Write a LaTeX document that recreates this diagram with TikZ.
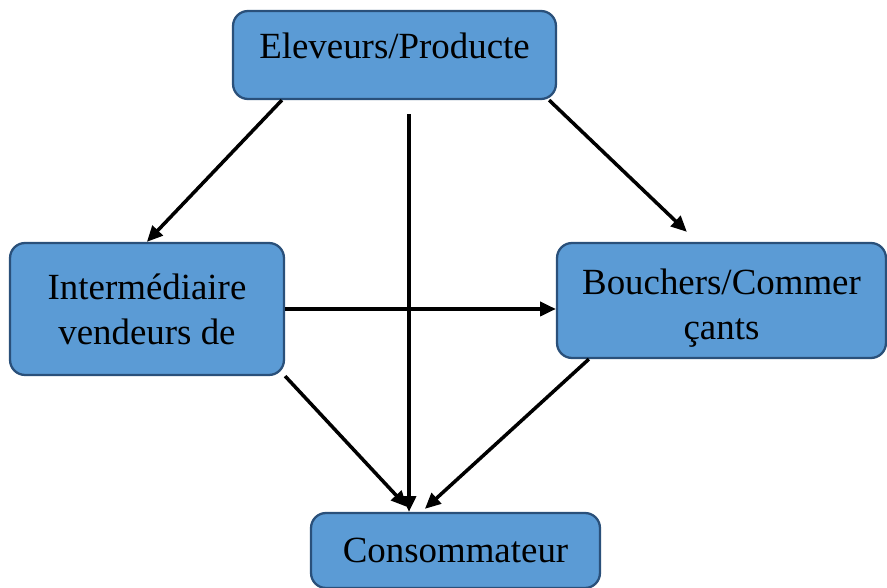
\documentclass[tikz,border=0pt]{standalone}
\usepackage{fontspec}
\setmainfont{Liberation Serif}
\usetikzlibrary{arrows.meta}
\definecolor{boxfill}{RGB}{91,155,213}
\definecolor{boxline}{RGB}{42,80,122}
\begin{document}
\begin{tikzpicture}[x=0.02cm,y=0.02cm,
  box/.style={draw=boxline,fill=boxfill,line width=1.3pt,rounded corners=0.3cm,align=center,
    font=\fontsize{21}{25.6}\selectfont,inner sep=0pt},
  arr/.style={-{Triangle[length=9pt,width=8pt]},line width=2pt}]
\useasboundingbox (0,0) rectangle (887,588);
\node[box,minimum width=6.46cm,minimum height=1.76cm,text depth=10.5pt] (prod) at (394.5,533) {Eleveurs/Producte};
\node[box,minimum width=5.48cm,minimum height=2.64cm] (inter) at (147,279) {Intermédiaire\\vendeurs de};
\node[box,minimum width=6.58cm,minimum height=2.30cm,text height=49pt] (bouch) at (721.5,287.5) {Bouchers/Commer\\çants};
\node[box,minimum width=5.78cm,minimum height=1.50cm] (cons) at (455.5,37.5) {Consommateur};
\draw[arr] ([shift={(50,0)}]prod.south west) -- ([shift={(138,0)}]inter.north west);
\draw[arr] ([shift={(14.5,-14)}]prod.south) coordinate (v) -- (v |- cons.north);
\draw[arr] ([shift={(-8,0)}]prod.south east) -- ([shift={(131,10)}]bouch.north west);
\draw[arr] (inter.east) -- (inter.east -| bouch.west);
\draw[arr] (inter.south east) -- ([shift={(97,5)}]cons.north west);
\draw[arr] ([shift={(33,0)}]bouch.south west) -- ([shift={(115,3)}]cons.north west);
\end{tikzpicture}
\end{document}
